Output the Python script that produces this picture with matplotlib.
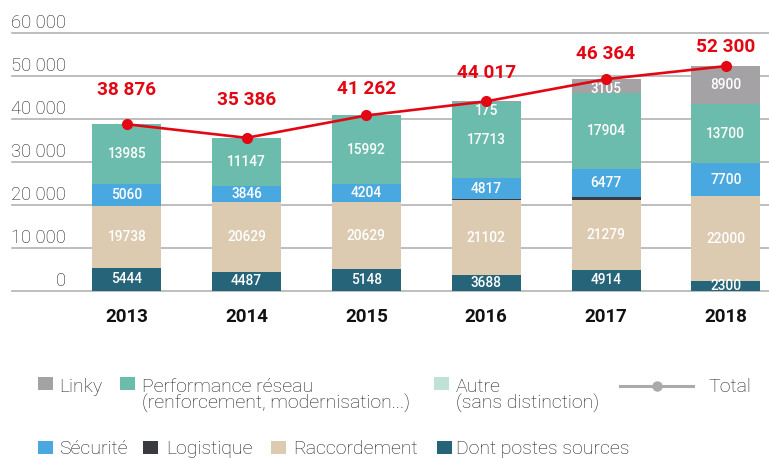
import matplotlib
matplotlib.use("Agg")
import matplotlib.pyplot as plt
from matplotlib.patches import Rectangle
from matplotlib.lines import Line2D
import numpy as np

# ---------------- data ----------------
years = ["2013", "2014", "2015", "2016", "2017", "2018"]
dont_postes = [5444, 4487, 5148, 3688, 4914, 2300]          # part of Raccordement
raccordement = [19738, 20629, 20629, 21102, 21279, 22000]
logistique = [0, 0, 0, 300, 500, 0]
securite = [5060, 3846, 4204, 4817, 6477, 7700]
performance = [13985, 11147, 15992, 17713, 17904, 13700]
autre = [0, 0, 0, 0, 0, 0]
linky = [0, 0, 0, 175, 3105, 8900]
total = [38876, 35386, 41262, 44017, 46364, 52300]
yticks = [0, 10000, 20000, 30000, 40000, 50000, 60000]

# ---------------- style ----------------
W, H = 769, 459
C_LINKY = "#a4a2a5"
C_PERF = "#6bbcac"
C_AUTRE = "#c0e1d7"
C_SECU = "#49a8df"
C_LOGI = "#3a3b40"
C_RACC = "#dccab1"
C_DONT = "#266479"
C_RED = "#e30613"
C_GRID = "#b3b3b3"
C_TEXT = "#1e1e1e"
total_label_dy_px = [33, 36, 25, 27, 24, 18]

plt.rcParams["font.family"] = ["Roboto", "DejaVu Sans"]

fig = plt.figure(figsize=(W / 100, H / 100), dpi=100)
fig.patch.set_facecolor("white")

def fx(px):
    return px / W

def fy(py):
    return (H - py) / H

# axes: x from px 12 to 769, y=0 at px 291, y=60000 at px 33
ax = fig.add_axes([fx(12), fy(291), (W - 12) / W, (291 - 33) / H])
ax.set_ylim(0, 60000)
step = 119.8
xmin = -(126.8 - 12) / step
ax.set_xlim(xmin, xmin + (W - 12) / step)
ax.axis("off")

for v in yticks:
    ax.axhline(v, color=C_GRID, lw=1.2, zorder=0, clip_on=False)
    lab = f"{v:,}".replace(",", " ")
    ax.annotate(lab, xy=(fx(66), v), xycoords=("figure fraction", "data"),
                xytext=(0, 3.8), textcoords="offset points",
                ha="right", va="baseline", fontsize=13.2, fontweight="light",
                color=C_TEXT)

x = np.arange(len(years))
bw = 69 / step

d = np.array(dont_postes, float)
r_rest = np.array(raccordement, float) - d
lo = np.array(logistique, float)
se = np.array(securite, float)
pe = np.array(performance, float)
au = np.array(autre, float)
li = np.array(linky, float)

segments = [(d, C_DONT), (r_rest, C_RACC), (lo, C_LOGI), (se, C_SECU),
            (pe, C_PERF), (au, C_AUTRE), (li, C_LINKY)]
bottom = np.zeros(len(years))
bottoms = []
for vals, col in segments:
    ax.bar(x, vals, bw, bottom=bottom, color=col, linewidth=0, zorder=2)
    bottoms.append(bottom.copy())
    bottom = bottom + vals
tops = bottom

lab_kw = dict(ha="center", va="center", color="white", fontsize=9.8,
              fontweight="medium", zorder=5)

for i in range(len(years)):
    ax.text(x[i], bottoms[0][i] + d[i] / 2, f"{dont_postes[i]}", **lab_kw)
    ax.text(x[i], bottoms[1][i] + r_rest[i] / 2, f"{raccordement[i]}", **lab_kw)
    ax.text(x[i], bottoms[3][i] + se[i] / 2, f"{securite[i]}", **lab_kw)
    ax.text(x[i], bottoms[4][i] + pe[i] / 2, f"{performance[i]}", **lab_kw)
    if linky[i] > 0:
        yc = min(bottoms[6][i] + li[i] / 2, tops[i] - 2200)
        ax.text(x[i], yc, f"{linky[i]}", **lab_kw)
    ax.annotate(years[i], xy=(x[i], 0), xytext=(0, -18.5), textcoords="offset points",
                ha="center", va="center", fontsize=13.5, fontweight="bold",
                color="#111111", annotation_clip=False)

# total line at the top of each bar
ax.plot(x, tops, color=C_RED, lw=1.9, marker="o", ms=7, zorder=6, clip_on=False)
for i in range(len(years)):
    lab = f"{total[i]:,}".replace(",", " ")
    ax.annotate(lab, xy=(x[i], tops[i]), xytext=(0, total_label_dy_px[i] * 0.75),
                textcoords="offset points", ha="center", va="center",
                fontsize=13.7, fontweight="bold", color=C_RED, zorder=7,
                annotation_clip=False)

# ---------------- legend (manual) ----------------
leg_kw = dict(fontsize=14, fontweight="light", color=C_TEXT, va="baseline", ha="left")

def square(px, py, col, w=15, h=13):
    fig.add_artist(Rectangle((fx(px), fy(py + h)), w / W, h / H,
                             transform=fig.transFigure, color=col, lw=0))

# row 1
square(38, 377, C_LINKY)
fig.text(fx(59), fy(392), "Linky", **leg_kw)
square(120, 377, C_PERF)
fig.text(fx(142), fy(392), "Performance réseau", **leg_kw)
fig.text(fx(142), fy(409), "(renforcement, modernisation...)", **leg_kw)
square(434, 377, C_AUTRE)
fig.text(fx(456), fy(392), "Autre", **leg_kw)
fig.text(fx(456), fy(409), "(sans distinction)", **leg_kw)
fig.add_artist(Line2D([fx(620), fx(693)], [fy(386), fy(386)], transform=fig.transFigure,
                      color="#aaaaaa", lw=2.2))
fig.add_artist(Line2D([fx(657)], [fy(386)], transform=fig.transFigure,
                      color="#aaaaaa", marker="o", ms=6.5, lw=0))
fig.text(fx(708), fy(392), "Total", **leg_kw)

# row 2
square(38, 441, C_SECU)
fig.text(fx(59), fy(454), "Sécurité", **leg_kw)
square(143, 441, C_LOGI)
fig.text(fx(166), fy(454), "Logistique", **leg_kw)
square(271, 441, C_RACC)
fig.text(fx(293), fy(454), "Raccordement", **leg_kw)
square(437, 441, C_DONT)
fig.text(fx(456), fy(454), "Dont postes sources", **leg_kw)

fig.savefig("out.png", dpi=100)
